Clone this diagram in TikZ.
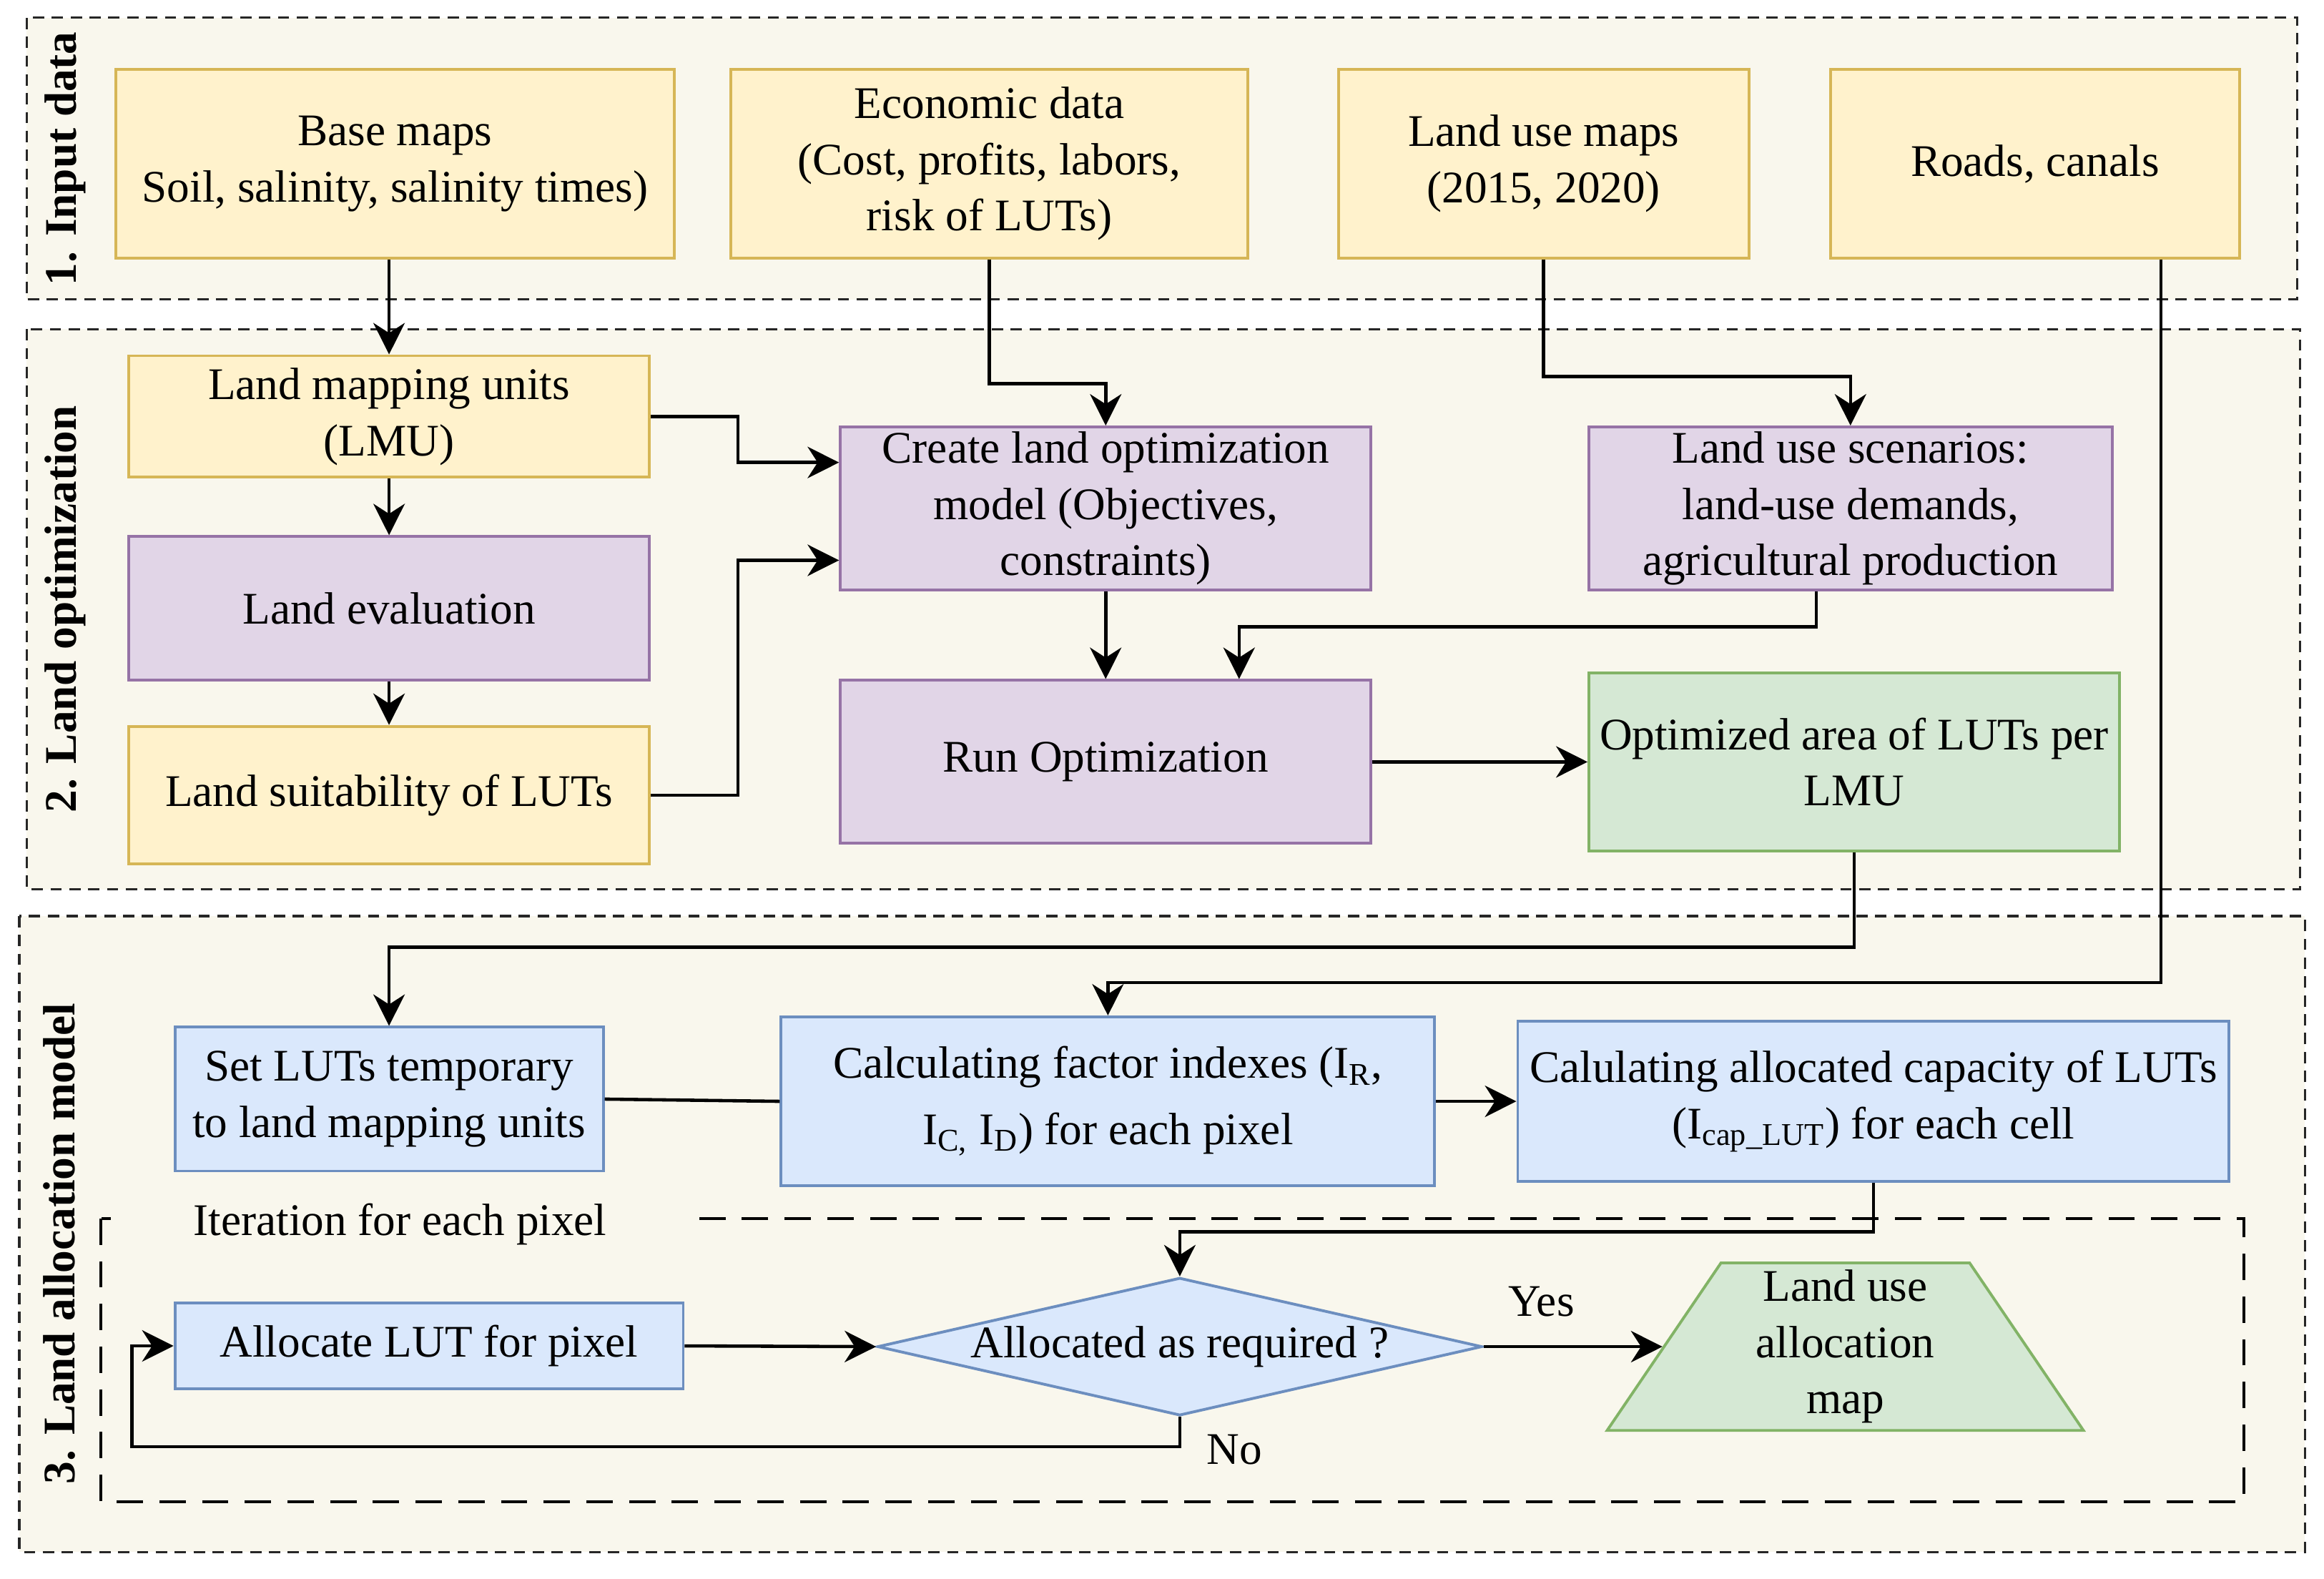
\documentclass[tikz,border=0pt]{standalone}
\usepackage{fontspec}
\setmainfont{Liberation Serif}
\usepackage{xcolor}
\usetikzlibrary{shapes.geometric,arrows.meta,positioning,calc}
\definecolor{panelbg}{HTML}{F9F7ED}
\definecolor{ylwfill}{HTML}{FFF2CC}
\definecolor{ylwline}{HTML}{D6B656}
\definecolor{prpfill}{HTML}{E1D5E7}
\definecolor{prpline}{HTML}{9673A6}
\definecolor{grnfill}{HTML}{D5E8D4}
\definecolor{grnline}{HTML}{82B366}
\definecolor{blufill}{HTML}{DAE8FC}
\definecolor{bluline}{HTML}{6C8EBF}
\newlength{\pxu}\setlength{\pxu}{0.02073cm}

\begin{document}
\begin{tikzpicture}[x=0.02073cm, y=-0.02073cm,
    font=\fontsize{18}{22.4}\selectfont,
    box/.style={draw, line width=1.1pt, align=center, inner sep=1pt},
    ylw/.style={box, fill=ylwfill, draw=ylwline},
    prp/.style={box, fill=prpfill, draw=prpline},
    grn/.style={box, fill=grnfill, draw=grnline},
    blu/.style={box, fill=blufill, draw=bluline},
    panel/.style={fill=panelbg, draw=black!85, line width=0.9pt, dash pattern=on 4.5pt off 3pt},
    paneltitle/.style={rotate=90, font=\fontsize{18}{22.4}\selectfont\bfseries},
    arr/.style={-{Stealth[length=12.5pt,width=12.5pt,inset=4pt]}, line width=1.3pt},
    link/.style={line width=1.3pt}]
    \useasboundingbox (0,0) rectangle (1568,1064.8);
    % panels
    \draw[panel] (18,12) rectangle (1550,202);
    \draw[panel] (18,222) rectangle (1552,600);
    \draw[panel] (13,618) rectangle (1555,1047);
    \draw[line width=1.2pt, dash pattern=on 10.5pt off 6.5pt] (68,822) rectangle (1514,1013);
    \node[paneltitle] (t1) at (44,107) {1. Input data};
    \node[paneltitle] (t2) at (44,411) {2. Land optimization};
    \node[paneltitle] (t3) at (40,839) {3. Land allocation model};
    \node[fill=panelbg, inner sep=1pt, minimum width=390\pxu] (iter) at (270,826) {Iteration for each pixel};

    % 1. input data
    \node[ylw, minimum width=377\pxu, minimum height=127\pxu] (base) at (266.5,110.5) {Base maps\\Soil, salinity, salinity times)};
    \node[ylw, minimum width=349\pxu, minimum height=127\pxu] (econ) at (667.5,110.5) {Economic data\\(Cost, profits, labors,\\risk of LUTs)};
    \node[ylw, minimum width=277\pxu, minimum height=127\pxu] (lumaps) at (1041.5,110.5) {Land use maps\\(2015, 2020)};
    \node[ylw, minimum width=276\pxu, minimum height=127\pxu] (roads) at (1373,110.5) {Roads, canals};

    % 2. land optimization
    \node[ylw, minimum width=351\pxu, minimum height=82\pxu] (lmu) at (262.5,281) {Land mapping units\\(LMU)};
    \node[prp, minimum width=351\pxu, minimum height=97\pxu] (landeval) at (262.5,410.5) {Land evaluation};
    \node[ylw, minimum width=351\pxu, minimum height=93\pxu] (suit) at (262.5,536.5) {Land suitability of LUTs};
    \node[prp, minimum width=358\pxu, minimum height=110\pxu] (create) at (746,343) {Create land optimization\\model (Objectives,\\constraints)};
    \node[prp, minimum width=353\pxu, minimum height=110\pxu] (scen) at (1248.5,343) {Land use scenarios:\\land-use demands,\\agricultural production};
    \node[prp, minimum width=358\pxu, minimum height=110\pxu] (run) at (746,514) {Run Optimization};
    \node[grn, minimum width=358\pxu, minimum height=120\pxu] (optarea) at (1251,514) {Optimized area of LUTs per\\LMU};

    % 3. land allocation model
    \node[blu, minimum width=289\pxu, minimum height=97\pxu] (setluts) at (262.5,741.5) {Set LUTs temporary\\to land mapping units};
    \node[blu, minimum width=441\pxu, minimum height=114\pxu] (calcfac) at (747.5,743) {Calculating factor indexes (I\textsubscript{R},\\[4pt]I\textsubscript{C,} I\textsubscript{D}) for each pixel};
    \node[blu, minimum width=480\pxu, minimum height=108\pxu] (calccap) at (1264,743) {Calulating allocated capacity of LUTs\\(I\textsubscript{cap\_LUT}) for each cell};
    \node[blu, minimum width=343\pxu, minimum height=58\pxu] (alloc) at (289.5,908) {Allocate LUT for pixel};
    \node[diamond, draw=bluline, fill=blufill, line width=1.1pt, inner sep=0pt, shape aspect=4.4,
        minimum width=408\pxu, minimum height=93\pxu] (dec) at (796,908.5) {Allocated as required ?};
    \node[trapezium, draw=grnline, fill=grnfill, line width=1.1pt, inner sep=0pt, align=center,
        trapezium left angle=62, trapezium right angle=62, trapezium stretches=true,
        minimum width=322\pxu, minimum height=113\pxu] (lumap) at (1245,908.5) {Land use\\allocation\\map};

    % connectors
    \draw[arr] (lmu.north |- base.south) -- (lmu.north);
    \draw[arr] (econ.south) -- ++(0,84) -| (create.north);
    \draw[arr] (lumaps.south) -- ++(0,79) -| (scen.north);
    \draw[arr] ([xshift=85\pxu]roads.south) -- ++(0,488) -| (calcfac.north);
    \draw[arr] (lmu.east) -- ++(59,0) |- ([yshift=31\pxu]create.west);
    \draw[arr] (suit.east) -- ++(59,0) |- ([yshift=-35\pxu]create.west);
    \draw[arr] (lmu.south) -- (landeval.north);
    \draw[arr] (landeval.south) -- (suit.north);
    \draw[arr] (create.south) -- (run.north);
    \draw[arr] ([xshift=-23\pxu]scen.south) -- ++(0,24) -| ([xshift=90\pxu]run.north);
    \draw[arr] (run.east) -- (optarea.west);
    \draw[arr] (optarea.south) -- ++(0,64) -| (setluts.north);
    \draw[link] (setluts.east) -- (calcfac.west);
    \draw[arr] (calcfac.east) -- (calccap.west);
    \draw[arr] (calccap.south) -- ++(0,33) -| (dec.north);
    \draw[arr] (alloc.east) -- (dec.west);
    \draw[arr] (dec.east) -- (lumap.left side);
    \draw[arr] (dec.south) -- ++(0,20) -| ([xshift=-28\pxu]alloc.west) -- (alloc.west);
    \node (yes) at (1040,878) {Yes};
    \node (no) at (833,978) {No};
\end{tikzpicture}
\end{document}
